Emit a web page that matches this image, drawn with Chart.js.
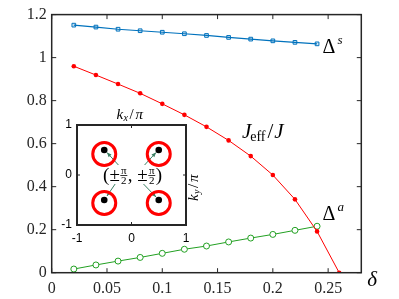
<!DOCTYPE html>
<html>
<head>
<meta charset="utf-8">
<script src="https://cdn.jsdelivr.net/npm/chart.js@4/dist/chart.umd.min.js"></script>
<style>
  body { margin: 0; background: #fff; }
  #wrap { position: relative; width: 399px; height: 299px; }
  #main { position: absolute; left: 0; top: 0; width: 399px; height: 299px; }
  #inset { position: absolute; left: 50px; top: 100px; width: 160px; height: 150px; }
</style>
</head>
<body>
<div id="wrap">
  <div id="main"><canvas id="c1"></canvas></div>
  <div id="inset"><canvas id="c2"></canvas></div>
</div>
<script>
// main panel data
const delta = [0.02, 0.04, 0.06, 0.08, 0.10, 0.12, 0.14, 0.16, 0.18, 0.20, 0.22, 0.24, 0.26];
const gapS = [1.151, 1.142, 1.132, 1.125, 1.118, 1.111, 1.103, 1.094, 1.086, 1.078, 1.071, 1.064];
const jEff = [0.960, 0.919, 0.877, 0.834, 0.785, 0.734, 0.678, 0.615, 0.542, 0.454, 0.341, 0.192, 0.0];
const gapA = [0.017, 0.036, 0.054, 0.071, 0.090, 0.109, 0.124, 0.143, 0.161, 0.178, 0.197, 0.216];
const xTicks = [0, 0.05, 0.1, 0.15, 0.2, 0.25];
const yTicks = [0, 0.2, 0.4, 0.6, 0.8, 1, 1.2];

// inset data (k / pi)
const nodesX = [-0.5, 0.5, -0.5, 0.5];
const nodesY = [0.5, 0.5, -0.5, -0.5];
const pocketX = [-0.5, 0.5, -0.5, 0.5];
const pocketY = [0.42, 0.42, -0.56, -0.56];
const arrowFrom = [[-0.24, 0.2], [0.24, 0.2], [-0.3, -0.18], [0.22, -0.18]];
const arrowTo = [[-0.45, 0.45], [0.45, 0.45], [-0.45, -0.42], [0.45, -0.44]];
const insetTicks = [-1, 0, 1];

const pts = (xs, ys) => ys.map((y, i) => ({ x: xs[i], y: y }));
const fmt = v => String(+(+v).toFixed(2));
const axisColor = '#262626';
const serif = "'Liberation Serif', 'Times New Roman', serif";
const sans = "'Liberation Sans', Arial, sans-serif";

Chart.defaults.font.family = serif;

function setTicks(list) {
    return scale => { scale.ticks = list.map(v => ({ value: v })); };
}

// box with inward ticks on all four sides
function boxPlugin(width, tickLen) {
    return {
        id: 'box',
        beforeDatasetsDraw(chart) {
            const a = chart.chartArea;
            const ctx = chart.ctx;
            if (chart.options.plugins.box && chart.options.plugins.box.fill) {
                ctx.save();
                ctx.fillStyle = '#fff';
                ctx.fillRect(a.left, a.top, a.right - a.left, a.bottom - a.top);
                ctx.restore();
            }
        },
        afterDraw(chart) {
            const a = chart.chartArea;
            const ctx = chart.ctx;
            const xs = chart.scales.x, ys = chart.scales.y;
            ctx.save();
            ctx.strokeStyle = chart.options.plugins.box.color;
            ctx.lineWidth = width;
            ctx.strokeRect(a.left, a.top, a.right - a.left, a.bottom - a.top);
            ctx.lineWidth = 1;
            ctx.beginPath();
            xs.ticks.forEach(t => {
                const px = xs.getPixelForValue(t.value);
                ctx.moveTo(px, a.bottom); ctx.lineTo(px, a.bottom - tickLen);
                ctx.moveTo(px, a.top); ctx.lineTo(px, a.top + tickLen);
            });
            ys.ticks.forEach(t => {
                const py = ys.getPixelForValue(t.value);
                ctx.moveTo(a.left, py); ctx.lineTo(a.left + tickLen, py);
                ctx.moveTo(a.right, py); ctx.lineTo(a.right - tickLen, py);
            });
            ctx.stroke();
            ctx.restore();
        }
    };
}

const mainLabels = {
    id: 'mainLabels',
    afterDraw(chart) {
        const ctx = chart.ctx;
        const xs = chart.scales.x, ys = chart.scales.y;
        const a = chart.chartArea;
        ctx.save();
        ctx.fillStyle = '#000';
        ctx.textBaseline = 'alphabetic';
        // Delta^s
        let x = xs.getPixelForValue(0.245), y = ys.getPixelForValue(1.021);
        ctx.font = '20px ' + serif;
        ctx.fillText('Δ', x, y);
        let w = ctx.measureText('Δ').width;
        ctx.font = 'italic 13px ' + serif;
        ctx.fillText('s', x + w + 2, y - 9);
        // J_eff / J
        x = xs.getPixelForValue(0.172); y = ys.getPixelForValue(0.625);
        ctx.font = 'italic 21px ' + serif;
        ctx.fillText('J', x, y);
        w = ctx.measureText('J').width;
        ctx.font = '14px ' + serif;
        ctx.fillText('eff', x + w - 1, y + 3);
        const w2 = ctx.measureText('eff').width;
        ctx.font = '21px ' + serif;
        ctx.fillText('/', x + w + w2 + 1, y);
        const w3 = ctx.measureText('/').width;
        ctx.font = 'italic 21px ' + serif;
        ctx.fillText('J', x + w + w2 + w3 + 2, y);
        // Delta^a
        x = xs.getPixelForValue(0.245); y = ys.getPixelForValue(0.245);
        ctx.font = '20px ' + serif;
        ctx.fillText('Δ', x, y);
        w = ctx.measureText('Δ').width;
        ctx.font = 'italic 13px ' + serif;
        ctx.fillText('a', x + w + 2, y - 9);
        // delta axis label
        ctx.font = 'italic 21px ' + serif;
        ctx.fillText('δ', a.right + 6, a.bottom + 13);
        ctx.restore();
    }
};

new Chart(document.getElementById('c1'), {
    type: 'line',
    data: {
        datasets: [{
            label: 'Δs',
            data: pts(delta, gapS),
            borderColor: '#0072BD',
            backgroundColor: 'rgba(0,114,189,0.15)',
            borderWidth: 1.2,
            pointStyle: 'rect',
            pointRadius: 2.6,
            pointBorderWidth: 1
        }, {
            label: 'Jeff/J',
            data: pts(delta, jEff),
            borderColor: '#ff0000',
            backgroundColor: '#ff0000',
            borderWidth: 1,
            pointStyle: 'circle',
            pointRadius: 2.3,
            pointBorderWidth: 0
        }, {
            label: 'Δa',
            data: pts(delta, gapA),
            borderColor: '#22a022',
            backgroundColor: '#ffffff',
            borderWidth: 1,
            pointStyle: 'circle',
            pointRadius: 3,
            pointBorderWidth: 1
        }]
    },
    options: {
        responsive: true,
        maintainAspectRatio: false,
        animation: false,
        layout: { padding: { left: 0, top: 14.5, right: 37.7, bottom: 0 } },
        plugins: {
            legend: { display: false },
            tooltip: { enabled: false },
            box: { color: axisColor }
        },
        scales: {
            x: {
                type: 'linear',
                min: 0,
                max: 0.28,
                afterBuildTicks: setTicks(xTicks),
                afterFit: s => { s.height = 26.3; },
                grid: { display: false, drawTicks: false },
                border: { display: false },
                ticks: {
                    padding: 6,
                    color: axisColor,
                    font: { family: serif, size: 16 },
                    callback: fmt,
                    maxRotation: 0,
                    autoSkip: false
                }
            },
            y: {
                type: 'linear',
                min: 0,
                max: 1.2,
                afterBuildTicks: setTicks(yTicks),
                afterFit: s => { s.width = 51.7; },
                grid: { display: false, drawTicks: false },
                border: { display: false },
                ticks: {
                    padding: 5,
                    color: axisColor,
                    font: { family: serif, size: 16 },
                    callback: fmt,
                    autoSkip: false
                }
            }
        }
    },
    plugins: [boxPlugin(1.5, 4.5), mainLabels]
});

// inset annotations: arrows, (±π/2, ±π/2) and axis titles
const insetLabels = {
    id: 'insetLabels',
    beforeDatasetsDraw(chart) {
        const ctx = chart.ctx;
        const xs = chart.scales.x, ys = chart.scales.y;
        ctx.save();
        ctx.strokeStyle = '#3b7f63';
        ctx.fillStyle = '#3b7f63';
        ctx.lineWidth = 1;
        arrowFrom.forEach((f, i) => {
            const x0 = xs.getPixelForValue(f[0]), y0 = ys.getPixelForValue(f[1]);
            const x1 = xs.getPixelForValue(arrowTo[i][0]), y1 = ys.getPixelForValue(arrowTo[i][1]);
            const ang = Math.atan2(y1 - y0, x1 - x0);
            ctx.beginPath();
            ctx.moveTo(x0, y0); ctx.lineTo(x1, y1);
            ctx.stroke();
            ctx.beginPath();
            ctx.moveTo(x1, y1);
            ctx.lineTo(x1 - 5 * Math.cos(ang - 0.4), y1 - 5 * Math.sin(ang - 0.4));
            ctx.lineTo(x1 - 5 * Math.cos(ang + 0.4), y1 - 5 * Math.sin(ang + 0.4));
            ctx.closePath();
            ctx.fill();
        });
        ctx.restore();
    },
    afterDraw(chart) {
        const ctx = chart.ctx;
        const xs = chart.scales.x, ys = chart.scales.y;
        const a = chart.chartArea;
        ctx.save();
        ctx.fillStyle = '#000';
        ctx.strokeStyle = '#000';
        // (±π/2, ±π/2)
        const cx = xs.getPixelForValue(0.02), cy = ys.getPixelForValue(0);
        const big = '19px ' + serif;
        const small = '11px ' + serif;
        const parts = ['(', '±', 'F', ', ', '±', 'F', ')'];
        const fracW = 8;
        let total = 0;
        ctx.font = big;
        parts.forEach(p => { total += p === 'F' ? fracW : ctx.measureText(p).width; });
        let x = cx - total / 2;
        ctx.textBaseline = 'alphabetic';
        parts.forEach(p => {
            if (p === 'F') {
                ctx.font = small;
                ctx.textAlign = 'center';
                ctx.fillText('π', x + fracW / 2, cy - 1.5);
                ctx.fillText('2', x + fracW / 2, cy + 9);
                ctx.lineWidth = 0.8;
                ctx.beginPath();
                ctx.moveTo(x + 0.5, cy + 0.5); ctx.lineTo(x + fracW - 0.5, cy + 0.5);
                ctx.stroke();
                ctx.textAlign = 'left';
                x += fracW;
            } else {
                ctx.font = big;
                ctx.fillText(p, x, cy + 6);
                x += ctx.measureText(p).width;
            }
        });
        // k_x / π on top
        ctx.font = 'italic 15px ' + serif;
        const kx = a.left + (a.right - a.left) / 2 - 15;
        ctx.fillText('k', kx, a.top - 6);
        ctx.font = 'italic 10px ' + serif;
        ctx.fillText('x', kx + 7, a.top - 4);
        ctx.font = '15px ' + serif;
        ctx.fillText('/', kx + 13, a.top - 6);
        ctx.font = 'italic 15px ' + serif;
        ctx.fillText('π', kx + 19, a.top - 6);
        // k_y / π on the right, rotated
        ctx.translate(a.right + 12, cy + 26);
        ctx.rotate(-Math.PI / 2);
        ctx.font = 'italic 15px ' + serif;
        ctx.fillText('k', 0, 0);
        ctx.font = 'italic 10px ' + serif;
        ctx.fillText('y', 7, 2);
        ctx.font = '15px ' + serif;
        ctx.fillText('/', 13, 0);
        ctx.font = 'italic 15px ' + serif;
        ctx.fillText('π', 19, 0);
        ctx.restore();
    }
};

new Chart(document.getElementById('c2'), {
    type: 'scatter',
    data: {
        datasets: [{
            label: 'pockets',
            data: pts(pocketX, pocketY),
            pointStyle: 'circle',
            pointRadius: 11.5,
            pointBorderWidth: 3,
            borderColor: '#ff0000',
            backgroundColor: 'rgba(0,0,0,0)'
        }, {
            label: 'nodes',
            data: pts(nodesX, nodesY),
            pointStyle: 'circle',
            pointRadius: 3.3,
            pointBorderWidth: 0,
            backgroundColor: '#000'
        }]
    },
    options: {
        responsive: true,
        maintainAspectRatio: false,
        animation: false,
        layout: { padding: { left: 0, top: 25, right: 24, bottom: 0 } },
        plugins: {
            legend: { display: false },
            tooltip: { enabled: false },
            box: { color: axisColor, fill: true }
        },
        scales: {
            x: {
                type: 'linear',
                min: -1,
                max: 1,
                afterBuildTicks: setTicks(insetTicks),
                afterFit: s => { s.height = 25; },
                grid: { display: false, drawTicks: false },
                border: { display: false },
                ticks: {
                    padding: 6,
                    color: '#000',
                    font: { family: sans, size: 12 },
                    maxRotation: 0,
                    autoSkip: false
                }
            },
            y: {
                type: 'linear',
                min: -1,
                max: 1,
                afterBuildTicks: setTicks(insetTicks),
                afterFit: s => { s.width = 27; },
                grid: { display: false, drawTicks: false },
                border: { display: false },
                ticks: {
                    padding: 5,
                    color: '#000',
                    font: { family: sans, size: 12 },
                    autoSkip: false
                }
            }
        }
    },
    plugins: [boxPlugin(2, 3), insetLabels]
});
</script>
</body>
</html>
